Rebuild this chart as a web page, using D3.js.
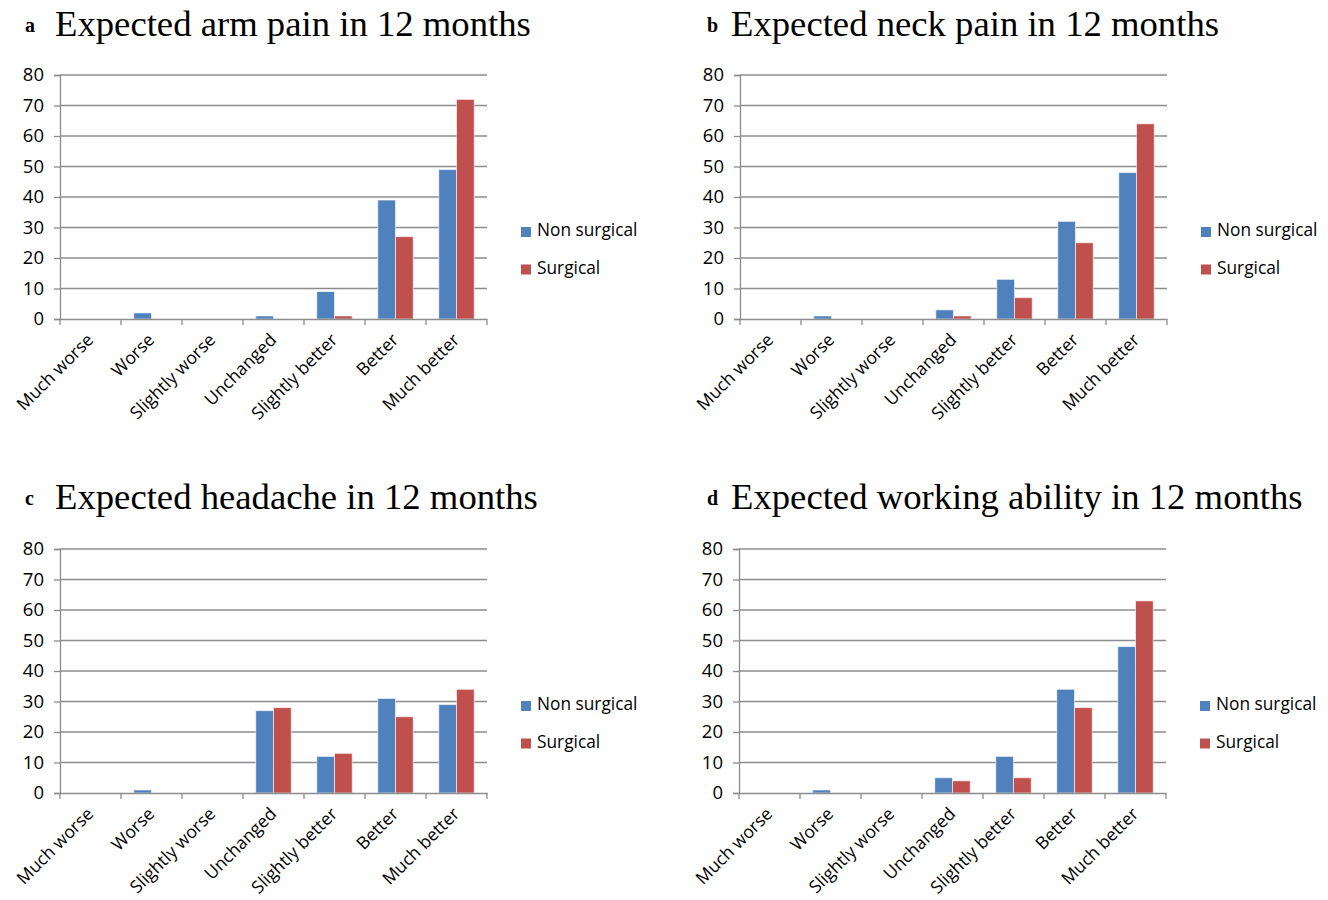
<!DOCTYPE html>
<html>
<head>
<meta charset="utf-8">
<script src="https://cdn.jsdelivr.net/npm/d3@7"></script>
<style>
  body { margin: 0; background: #fff; }
  svg { display: block; }
</style>
</head>
<body>
<svg width="1328" height="900"></svg>
<script>
const categories = ['Much worse', 'Worse', 'Slightly worse', 'Unchanged', 'Slightly better', 'Better', 'Much better'];
const seriesNames = ['Non surgical', 'Surgical'];
const yTicks = [0, 10, 20, 30, 40, 50, 60, 70, 80];

const panelLetters = ['a', 'b', 'c', 'd'];
const panelTitles = [
    'Expected arm pain in 12 months',
    'Expected neck pain in 12 months',
    'Expected headache in 12 months',
    'Expected working ability in 12 months'
];

const armNonSurgical = [0, 2, 0, 1, 9, 39, 49];
const armSurgical = [0, 0, 0, 0, 1, 27, 72];
const neckNonSurgical = [0, 1, 0, 3, 13, 32, 48];
const neckSurgical = [0, 0, 0, 1, 7, 25, 64];
const headNonSurgical = [0, 1, 0, 27, 12, 31, 29];
const headSurgical = [0, 0, 0, 28, 13, 25, 34];
const workNonSurgical = [0, 1, 0, 5, 12, 34, 48];
const workSurgical = [0, 0, 0, 4, 5, 28, 63];

const panelValues = [
    [armNonSurgical, armSurgical],
    [neckNonSurgical, neckSurgical],
    [headNonSurgical, headSurgical],
    [workNonSurgical, workSurgical]
];

const colors = ['#4F81BD', '#C0504D'];
const svg = d3.select('svg');
const labelFont = '"Open Sans", Carlito, Calibri, sans-serif';
const titleFont = '"Liberation Serif", "Times New Roman", serif';
const gridColor = '#8c8c8c';

// panel origins: left edge of plot and top (80 line)
const origins = [[60, 75], [740, 75], [60, 549], [739, 549]];
const plotW = 427, plotH = 244;

panelTitles.forEach((title, p) => {
    const [ox, oy] = origins[p];
    const g = svg.append('g').attr('transform', `translate(${ox},${oy})`);

    const x0 = d3.scaleBand().domain(categories).range([0, plotW]).paddingInner(0).paddingOuter(0);
    const x1 = d3.scaleBand().domain(seriesNames).range([0, x0.bandwidth()]).paddingInner(0).paddingOuter(0.72);
    const y = d3.scaleLinear().domain([0, 80]).range([plotH, 0]);

    // gridlines
    g.selectAll('line.grid')
        .data(yTicks.filter(t => t > 0))
        .enter().append('line')
        .attr('x1', 0).attr('x2', plotW)
        .attr('y1', d => y(d)).attr('y2', d => y(d))
        .attr('stroke', gridColor).attr('stroke-width', 1.3);

    // y axis
    const yAxis = g.append('g').call(d3.axisLeft(y).tickValues(yTicks).tickSize(6).tickPadding(10));
    yAxis.select('.domain').attr('stroke', gridColor).attr('stroke-width', 1.3);
    yAxis.selectAll('.tick line').attr('stroke', gridColor).attr('stroke-width', 1.3);
    yAxis.selectAll('text').attr('font-family', labelFont).attr('font-size', 18.5).attr('fill', '#000');

    // bars
    seriesNames.forEach((s, si) => {
        g.selectAll(null)
            .data(panelValues[p][si])
            .enter().append('rect')
            .attr('x', (d, i) => x0(categories[i]) + x1(s))
            .attr('y', d => y(d))
            .attr('width', x1.bandwidth())
            .attr('height', d => plotH - y(d))
            .attr('fill', colors[si])
            .attr('stroke', d => d > 0 ? 'rgba(255,255,255,0.6)' : 'none')
            .attr('stroke-width', 1);
    });

    // x axis
    const xAxis = g.append('g').attr('transform', `translate(0,${plotH})`)
        .call(d3.axisBottom(x0).tickSize(0).tickFormat(''));
    xAxis.select('.domain').attr('stroke', gridColor).attr('stroke-width', 1.3);
    g.selectAll('line.xtick')
        .data(d3.range(categories.length + 1))
        .enter().append('line')
        .attr('x1', i => i * x0.step()).attr('x2', i => i * x0.step())
        .attr('y1', plotH).attr('y2', plotH + 6)
        .attr('stroke', gridColor).attr('stroke-width', 1.3);

    g.selectAll('text.xlab')
        .data(categories)
        .enter().append('text')
        .attr('transform', d => `translate(${x0(d) + x0.bandwidth() / 2 + 4},${plotH + 22}) rotate(-45)`)
        .attr('text-anchor', 'end')
        .attr('font-family', labelFont)
        .attr('font-size', 17.5)
        .attr('fill', '#000')
        .text(d => d);

    // legend
    seriesNames.forEach((s, si) => {
        const ly = 161 + si * 37.5;
        g.append('rect').attr('x', plotW + 34).attr('y', ly - 9).attr('width', 10).attr('height', 10).attr('fill', colors[si]);
        g.append('text').attr('x', plotW + 50).attr('y', ly)
            .attr('font-family', labelFont).attr('font-size', 17.3).attr('fill', '#000').text(s);
    });

    // title
    const lx = p % 2 === 0 ? 25 : 707;
    const tx = p % 2 === 0 ? 55 : 731;
    const ty = p < 2 ? 36 : 509;
    svg.append('text').attr('x', lx).attr('y', ty - 4)
        .attr('font-family', titleFont)
        .attr('font-weight', 'bold').attr('font-size', 20).text(panelLetters[p]);
    svg.append('text').attr('x', tx).attr('y', ty)
        .attr('font-family', titleFont)
        .attr('font-size', 36.7).text(title);
});
</script>
</body>
</html>
